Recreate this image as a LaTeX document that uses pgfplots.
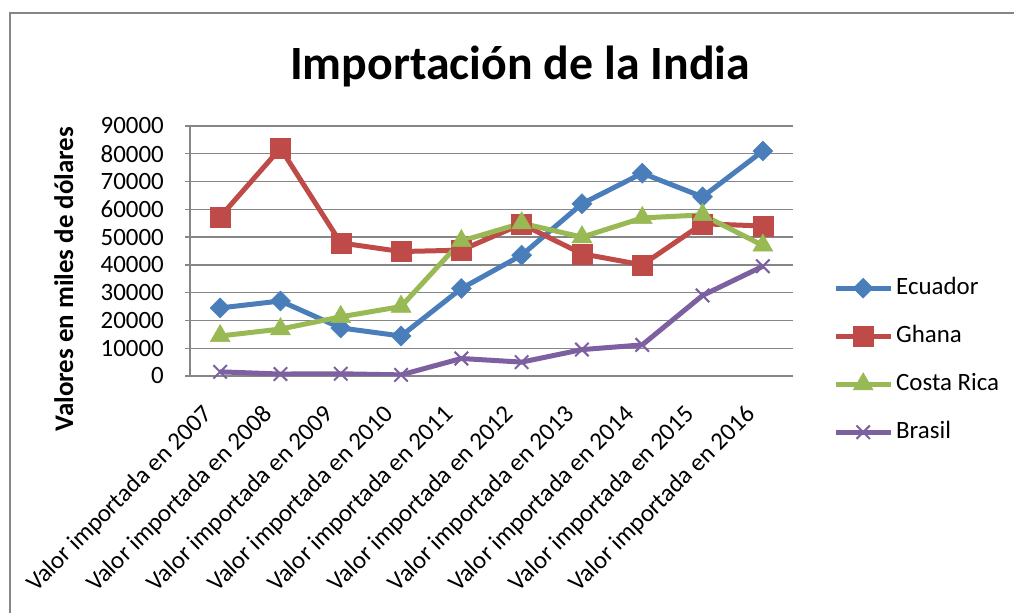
\documentclass[border=0pt]{standalone}
\usepackage{pgfplots}
\pgfplotsset{compat=1.18}
\usepackage{fontspec}
\setmainfont{Carlito}
\definecolor{cEc}{HTML}{4A7EBB}
\definecolor{cGh}{HTML}{BE4B48}
\definecolor{cCr}{HTML}{98B954}
\definecolor{cBr}{HTML}{7D60A0}
\definecolor{gridg}{HTML}{868686}
\begin{document}
\begin{tikzpicture}[x=1bp,y=1bp]
\useasboundingbox (0,0) rectangle (1014,613);
\draw[color=gridg, line width=2bp] (10,-5) -- (10,600) -- (1014,600);
\node[font=\fontsize{48}{58}\selectfont\bfseries, anchor=base, inner sep=0pt] at (520,533) {Importación de la India};
\node[font=\fontsize{27}{32}\selectfont\bfseries, rotate=90, anchor=base, inner sep=0pt] at (73,334) {Valores en miles de dólares};
\begin{axis}[
  at={(190bp,237bp)}, anchor=south west,
  scale only axis, width=603bp, height=250bp,
  xmin=-0.5, xmax=9.5, ymin=0, ymax=90000,
  scaled y ticks=false,
  axis x line*=bottom, axis y line*=left,
  axis line style={draw=gridg, line width=1.3bp},
  ymajorgrids, grid style={draw=gridg, line width=1.3bp},
  xtick={0,...,9},
  xticklabels={Valor importada en 2007,Valor importada en 2008,Valor importada en 2009,Valor importada en 2010,Valor importada en 2011,Valor importada en 2012,Valor importada en 2013,Valor importada en 2014,Valor importada en 2015,Valor importada en 2016},
  x tick style={draw=none},
  xticklabel style={xshift=-19bp, yshift=-22bp, rotate=45, anchor=north east, inner sep=0pt, font=\fontsize{25}{30}\selectfont},
  ytick={0,10000,...,90000},
  yticklabels={0,10000,20000,30000,40000,50000,60000,70000,80000,90000},
  y tick style={draw=gridg, line width=1.3bp},
  tick align=outside, major tick length=5bp,
  yticklabel style={anchor=east, inner sep=0pt, xshift=-21bp, font=\fontsize{25}{30}\selectfont},
  legend style={at={(1.0663,0.4)}, anchor=north west, draw=none, fill=none, inner sep=0pt,
    row sep=24bp, column sep=3bp, font=\fontsize{25}{30}\selectfont,
    nodes={inner sep=0pt, text height=18bp, text depth=6bp}},
  legend cell align=left,
  legend image code/.code={\draw[mark repeat=2,mark phase=2,#1] plot coordinates {(0bp,0bp) (27.5bp,0bp) (55bp,0bp)};},
  every axis plot/.append style={line width=5bp},
]
\addplot[color=cEc, mark=diamond*, mark size=10bp, mark options={solid, xscale=1.333, line width=0.5bp}] coordinates {
(0,24500) (1,27000) (2,17300) (3,14400) (4,31500) (5,43500) (6,62000) (7,73000) (8,64500) (9,81000)};
\addlegendentry{Ecuador}
\addplot[color=cGh, mark=square*, mark size=10bp, mark options={solid, line width=0.5bp}] coordinates {
(0,57300) (1,82000) (2,47900) (3,44800) (4,45300) (5,54700) (6,44000) (7,40000) (8,54800) (9,54000)};
\addlegendentry{Ghana}
\addplot[color=cCr, mark=triangle*, mark size=11.5bp, mark options={solid, line width=0.5bp}] coordinates {
(0,14400) (1,16900) (2,21300) (3,25000) (4,48600) (5,55000) (6,50000) (7,56900) (8,58000) (9,47000)};
\addlegendentry{Costa Rica}
\addplot[color=cBr, mark=x, mark size=9.5bp, mark options={solid, line width=2bp}] coordinates {
(0,1500) (1,700) (2,800) (3,400) (4,6300) (5,5000) (6,9500) (7,11200) (8,29000) (9,39500)};
\addlegendentry{Brasil}
\end{axis}
\end{tikzpicture}
\end{document}
